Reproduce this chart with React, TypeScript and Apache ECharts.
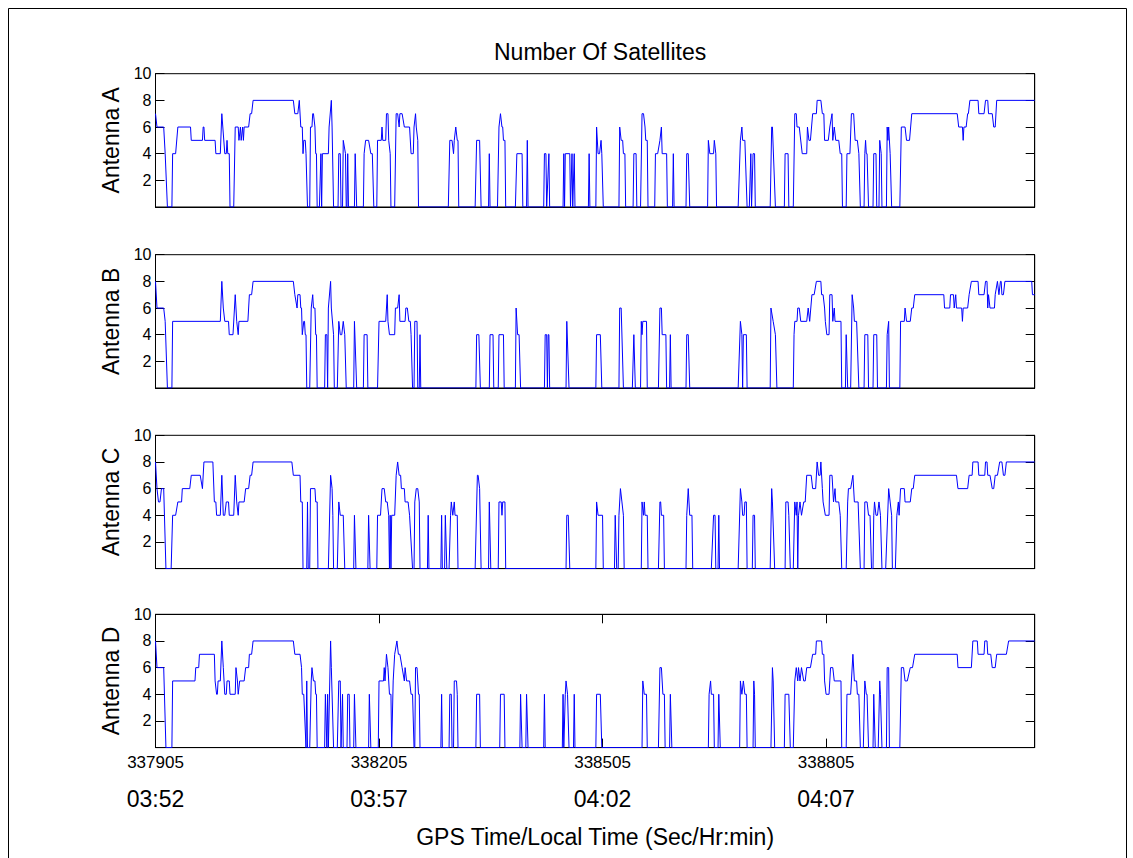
import { useEffect, useRef } from "react";
import * as echarts from "echarts";

// GPS seconds of week covered by the record
const GPS_START = 337905;
const GPS_END = 339085;

// x tick positions (GPS seconds) and their local-time equivalents
const gpsTicks = [337905, 338205, 338505, 338805];
const localTimes = ["03:52", "03:57", "04:02", "04:07"];

const antennaNames = ["Antenna A", "Antenna B", "Antenna C", "Antenna D"];

// Each record: [seconds since GPS_START, satellites tracked]
const antennaA: [number, number][] = [
  [0, 7], [2, 6], [11, 6], [13, 4], [16, 0], [22, 0], [23, 4], [27, 4], [30, 6], [47, 6], [48, 5], [63, 5], [64, 6], [65, 6], [66, 5],
  [80, 5], [81, 4], [87, 4], [89, 7], [93, 4], [95, 4], [96, 5], [97, 4], [99, 4], [100, 0], [105, 0], [107, 6], [111, 6], [112, 5],
  [114, 6], [115, 5], [117, 6], [118, 5], [119, 6], [125, 6], [127, 7], [129, 7], [131, 8], [185, 8], [187, 7], [191, 7], [193, 8],
  [195, 6], [197, 6], [198, 4], [199, 5], [201, 5], [202, 4], [204, 0], [207, 0], [208, 6], [210, 6], [211, 7], [212, 7], [214, 6],
  [215, 4], [216, 4], [217, 0], [220, 0], [222, 4], [223, 0], [224, 4], [232, 4], [233, 6], [236, 8], [237, 6], [239, 0], [245, 0],
  [246, 4], [248, 4], [249, 0], [251, 0], [252, 5], [255, 4], [256, 0], [257, 0], [258, 4], [259, 0], [267, 0], [268, 4], [270, 0],
  [279, 0], [280, 4], [282, 5], [286, 5], [289, 4], [291, 4], [293, 0], [297, 0], [298, 5], [303, 5], [304, 6], [305, 5], [309, 5],
  [310, 7], [312, 7], [313, 5], [315, 4], [316, 0], [321, 0], [323, 7], [325, 7], [327, 6], [328, 7], [331, 7], [334, 6], [341, 6],
  [343, 4], [346, 4], [347, 6], [349, 7], [350, 6], [352, 5], [353, 0], [393, 0], [395, 5], [398, 5], [400, 4], [401, 5], [403, 6],
  [405, 5], [406, 5], [407, 0], [429, 0], [431, 5], [435, 5], [437, 0], [447, 0], [448, 4], [449, 0], [459, 0], [461, 6], [463, 7],
  [465, 6], [466, 6], [467, 5], [469, 5], [470, 0], [483, 0], [485, 4], [492, 4], [493, 0], [498, 0], [499, 5], [500, 0], [521, 0],
  [522, 4], [524, 4], [525, 0], [528, 4], [529, 0], [547, 0], [548, 4], [549, 0], [550, 4], [556, 4], [557, 0], [559, 4], [560, 0],
  [562, 4], [563, 0], [581, 0], [582, 4], [583, 0], [591, 0], [592, 6], [594, 4], [596, 4], [598, 5], [599, 4], [601, 0], [622, 0],
  [623, 6], [625, 5], [627, 5], [628, 4], [630, 4], [631, 0], [641, 0], [642, 4], [645, 4], [646, 0], [651, 0], [653, 7], [655, 7],
  [657, 6], [658, 5], [660, 5], [661, 0], [670, 0], [671, 4], [674, 4], [677, 5], [679, 6], [680, 4], [686, 4], [687, 0], [694, 0],
  [695, 4], [696, 0], [712, 0], [713, 4], [715, 4], [717, 0], [741, 0], [742, 5], [744, 4], [749, 4], [750, 5], [752, 4], [753, 0],
  [782, 0], [785, 5], [787, 6], [788, 5], [791, 5], [794, 0], [797, 0], [799, 4], [800, 0], [802, 4], [804, 4], [805, 0], [825, 0],
  [827, 6], [828, 6], [832, 0], [844, 0], [845, 4], [849, 4], [850, 0], [856, 0], [858, 7], [860, 7], [861, 6], [864, 6], [868, 4],
  [874, 4], [875, 6], [877, 5], [879, 5], [882, 7], [887, 7], [888, 8], [893, 8], [895, 7], [897, 7], [898, 5], [903, 5], [905, 6],
  [908, 7], [909, 5], [911, 6], [913, 5], [917, 5], [919, 4], [921, 4], [922, 0], [927, 0], [928, 4], [932, 4], [934, 7], [937, 7],
  [939, 5], [942, 5], [944, 4], [946, 0], [951, 0], [952, 4], [953, 5], [954, 4], [955, 4], [957, 0], [963, 0], [964, 4], [967, 4],
  [968, 0], [971, 0], [972, 5], [974, 4], [975, 0], [981, 0], [982, 6], [983, 5], [984, 6], [986, 4], [988, 0], [999, 0], [1001, 6],
  [1006, 6], [1008, 5], [1012, 5], [1015, 7], [1076, 7], [1078, 6], [1083, 6], [1084, 5], [1085, 6], [1088, 6], [1090, 7], [1091, 7],
  [1093, 8], [1104, 8], [1105, 7], [1112, 7], [1114, 8], [1117, 8], [1118, 7], [1123, 7], [1125, 6], [1127, 6], [1129, 8], [1180, 8],
];

const antennaB: [number, number][] = [
  [0, 8], [2, 6], [11, 6], [13, 5], [16, 0], [22, 0], [23, 5], [87, 5], [89, 8], [91, 6], [93, 5], [98, 5], [99, 4], [104, 4],
  [107, 7], [109, 5], [111, 4], [112, 5], [124, 5], [126, 7], [129, 7], [131, 8], [185, 8], [187, 7], [190, 6], [191, 7], [194, 7],
  [195, 6], [196, 6], [197, 4], [199, 5], [200, 5], [201, 4], [202, 4], [203, 0], [207, 0], [209, 6], [211, 7], [212, 6], [214, 6],
  [215, 4], [216, 4], [217, 0], [227, 0], [228, 4], [230, 4], [231, 0], [232, 6], [235, 8], [236, 6], [239, 4], [240, 0], [244, 0],
  [246, 5], [248, 4], [250, 4], [252, 5], [254, 4], [256, 0], [266, 0], [267, 5], [270, 0], [279, 0], [280, 4], [284, 4], [285, 0],
  [298, 0], [300, 5], [309, 5], [311, 7], [312, 5], [314, 4], [321, 4], [322, 6], [325, 6], [327, 7], [328, 5], [335, 5], [336, 6],
  [338, 6], [340, 5], [342, 5], [343, 4], [345, 0], [347, 0], [348, 5], [351, 5], [352, 0], [354, 0], [355, 4], [356, 0], [430, 0],
  [431, 4], [434, 4], [436, 0], [448, 0], [449, 4], [453, 4], [454, 0], [460, 0], [461, 4], [467, 4], [468, 0], [483, 0], [484, 6],
  [486, 4], [488, 4], [490, 0], [522, 0], [523, 4], [525, 4], [526, 0], [527, 4], [528, 4], [529, 0], [551, 0], [552, 5], [555, 0],
  [591, 0], [592, 4], [597, 4], [599, 0], [622, 0], [623, 6], [625, 6], [628, 0], [640, 0], [642, 4], [644, 0], [651, 0], [652, 5],
  [653, 4], [654, 5], [659, 5], [660, 0], [675, 0], [677, 6], [679, 6], [680, 4], [685, 4], [686, 0], [690, 0], [691, 4], [692, 0],
  [712, 0], [713, 4], [715, 4], [717, 0], [782, 0], [785, 5], [787, 4], [788, 0], [789, 4], [793, 4], [794, 0], [825, 0], [826, 6],
  [829, 5], [832, 4], [834, 0], [856, 0], [857, 4], [858, 5], [861, 5], [862, 6], [864, 6], [866, 5], [874, 5], [876, 6], [878, 5],
  [881, 7], [884, 7], [887, 8], [893, 8], [894, 7], [896, 7], [898, 6], [899, 5], [901, 4], [904, 4], [905, 7], [908, 7], [909, 5],
  [911, 6], [912, 5], [920, 5], [921, 0], [926, 0], [927, 4], [929, 0], [933, 0], [935, 7], [937, 6], [938, 5], [941, 5], [944, 0],
  [951, 0], [952, 4], [956, 4], [957, 0], [963, 0], [964, 4], [968, 4], [969, 0], [981, 0], [982, 4], [984, 5], [985, 0], [999, 0],
  [1000, 5], [1005, 5], [1006, 6], [1008, 5], [1013, 5], [1015, 6], [1017, 6], [1019, 7], [1058, 7], [1059, 6], [1066, 6], [1067, 7],
  [1071, 7], [1072, 6], [1074, 7], [1075, 6], [1082, 6], [1083, 5], [1084, 6], [1090, 6], [1092, 7], [1095, 8], [1104, 8], [1105, 7],
  [1112, 7], [1114, 8], [1116, 8], [1117, 6], [1118, 7], [1120, 6], [1126, 6], [1127, 7], [1130, 8], [1132, 7], [1134, 8], [1135, 8],
  [1136, 7], [1138, 7], [1140, 8], [1176, 8], [1177, 7], [1180, 7],
];

const antennaC: [number, number][] = [
  [0, 8], [2, 6], [4, 5], [6, 5], [8, 6], [11, 6], [12, 4], [14, 0], [21, 0], [23, 4], [27, 4], [30, 5], [35, 5], [36, 6], [46, 6],
  [48, 7], [60, 7], [63, 6], [65, 8], [77, 8], [79, 5], [81, 5], [82, 4], [87, 4], [89, 7], [91, 4], [93, 4], [95, 5], [98, 5],
  [99, 4], [105, 4], [107, 7], [109, 5], [111, 4], [112, 5], [119, 5], [121, 6], [125, 6], [127, 7], [129, 7], [131, 8], [183, 8],
  [185, 7], [194, 7], [195, 5], [197, 5], [198, 0], [203, 0], [204, 5], [205, 0], [207, 0], [208, 6], [214, 6], [215, 5], [217, 5],
  [218, 0], [232, 0], [235, 7], [237, 6], [238, 4], [239, 0], [244, 0], [246, 5], [248, 4], [252, 4], [254, 0], [266, 0], [267, 4],
  [269, 0], [285, 0], [286, 4], [288, 0], [297, 0], [298, 4], [302, 4], [304, 6], [307, 6], [309, 5], [311, 5], [313, 4], [314, 0],
  [315, 4], [316, 0], [317, 4], [321, 4], [323, 7], [325, 8], [327, 7], [329, 7], [330, 6], [334, 6], [335, 5], [339, 5], [341, 4],
  [345, 0], [347, 0], [348, 5], [350, 6], [352, 6], [354, 5], [355, 0], [365, 0], [366, 4], [367, 0], [383, 0], [384, 4], [385, 0],
  [388, 0], [389, 4], [391, 0], [394, 0], [396, 4], [397, 5], [399, 4], [401, 5], [402, 4], [405, 4], [406, 0], [429, 0], [432, 7],
  [433, 7], [435, 6], [437, 0], [447, 0], [448, 5], [450, 0], [460, 0], [461, 5], [464, 5], [465, 4], [466, 5], [469, 5], [470, 0],
  [551, 0], [552, 4], [554, 4], [556, 0], [591, 0], [592, 5], [594, 4], [600, 4], [601, 0], [616, 0], [617, 4], [619, 0], [621, 0],
  [622, 4], [624, 6], [626, 5], [628, 4], [629, 0], [652, 0], [653, 5], [655, 4], [656, 5], [657, 4], [660, 4], [661, 0], [675, 0],
  [677, 5], [678, 5], [679, 4], [682, 4], [683, 0], [712, 0], [713, 4], [715, 6], [717, 4], [720, 4], [721, 0], [746, 0], [749, 4],
  [751, 4], [752, 0], [755, 0], [756, 4], [757, 0], [782, 0], [785, 6], [787, 5], [788, 4], [790, 4], [791, 5], [793, 5], [794, 0],
  [801, 0], [802, 4], [804, 4], [805, 0], [825, 0], [827, 6], [828, 5], [831, 0], [845, 0], [846, 5], [849, 5], [850, 4], [852, 0],
  [856, 0], [858, 5], [860, 4], [861, 5], [862, 0], [863, 4], [865, 5], [867, 4], [870, 5], [872, 5], [874, 7], [880, 7], [882, 6],
  [886, 6], [888, 8], [890, 7], [892, 7], [893, 8], [895, 6], [896, 5], [899, 4], [904, 4], [905, 7], [908, 7], [910, 5], [912, 6],
  [913, 5], [917, 5], [919, 4], [921, 0], [927, 0], [929, 5], [930, 6], [933, 6], [936, 7], [938, 5], [943, 5], [946, 0], [951, 0],
  [952, 5], [955, 5], [957, 4], [959, 4], [961, 0], [963, 0], [964, 4], [965, 5], [967, 4], [969, 4], [971, 5], [973, 4], [975, 0],
  [980, 0], [984, 6], [986, 5], [988, 4], [989, 0], [993, 0], [995, 4], [997, 5], [998, 4], [1000, 6], [1005, 6], [1006, 5], [1013, 5],
  [1015, 6], [1017, 6], [1019, 7], [1075, 7], [1077, 6], [1090, 6], [1092, 7], [1096, 7], [1097, 8], [1104, 8], [1105, 7], [1113, 7],
  [1114, 8], [1116, 8], [1117, 7], [1120, 7], [1123, 6], [1125, 6], [1127, 7], [1130, 7], [1133, 8], [1136, 8], [1138, 7], [1140, 7],
  [1142, 8], [1180, 8],
];

const antennaD: [number, number][] = [
  [0, 8], [2, 6], [11, 6], [14, 0], [22, 0], [23, 5], [53, 5], [54, 6], [58, 6], [59, 7], [79, 7], [80, 5], [82, 4], [83, 4], [84, 5],
  [87, 5], [89, 8], [91, 6], [93, 4], [95, 4], [96, 5], [99, 5], [100, 4], [107, 4], [108, 6], [110, 5], [111, 4], [113, 5], [119, 5],
  [121, 6], [125, 6], [126, 7], [129, 7], [131, 8], [185, 8], [187, 7], [194, 7], [196, 6], [197, 4], [199, 4], [202, 0], [203, 5],
  [204, 0], [207, 0], [209, 5], [210, 6], [212, 5], [214, 5], [215, 4], [216, 4], [217, 0], [227, 0], [228, 4], [230, 0], [231, 4],
  [232, 0], [235, 8], [236, 6], [239, 0], [244, 0], [246, 5], [248, 5], [249, 0], [251, 4], [252, 0], [257, 0], [258, 4], [260, 4],
  [261, 0], [266, 0], [267, 4], [269, 0], [286, 0], [287, 4], [289, 0], [299, 0], [300, 5], [306, 5], [307, 6], [308, 5], [310, 7],
  [312, 6], [314, 4], [316, 4], [317, 0], [319, 5], [321, 7], [324, 8], [326, 7], [328, 7], [331, 6], [334, 5], [335, 6], [337, 5],
  [341, 5], [343, 4], [345, 4], [347, 0], [348, 0], [349, 6], [351, 6], [353, 4], [354, 4], [355, 0], [383, 0], [384, 4], [385, 0],
  [394, 0], [395, 4], [397, 4], [398, 0], [400, 0], [401, 5], [404, 5], [405, 4], [406, 0], [430, 0], [431, 4], [435, 4], [436, 0],
  [462, 0], [463, 4], [468, 4], [469, 0], [489, 0], [490, 4], [492, 0], [497, 0], [498, 4], [500, 0], [521, 0], [522, 4], [523, 0],
  [546, 0], [547, 4], [548, 0], [550, 4], [551, 5], [553, 4], [555, 0], [561, 0], [562, 4], [563, 0], [591, 0], [592, 4], [597, 4],
  [599, 0], [653, 0], [654, 5], [656, 4], [659, 4], [660, 0], [675, 0], [677, 6], [679, 6], [681, 4], [683, 4], [684, 0], [690, 0],
  [691, 4], [693, 0], [742, 0], [743, 4], [745, 5], [746, 4], [749, 4], [750, 0], [755, 0], [756, 4], [758, 0], [784, 0], [785, 5],
  [787, 4], [789, 5], [791, 4], [793, 4], [794, 0], [802, 0], [803, 5], [804, 4], [805, 0], [826, 0], [828, 6], [829, 5], [831, 0],
  [844, 0], [845, 4], [850, 4], [852, 0], [856, 0], [858, 5], [860, 6], [862, 5], [863, 6], [865, 5], [867, 6], [870, 5], [872, 5],
  [874, 6], [879, 6], [882, 7], [886, 7], [887, 8], [894, 8], [895, 7], [897, 7], [898, 5], [900, 4], [904, 4], [905, 5], [906, 6],
  [909, 6], [911, 5], [920, 5], [921, 0], [927, 0], [928, 4], [933, 4], [936, 7], [938, 5], [941, 5], [942, 4], [944, 4], [946, 0],
  [950, 0], [952, 5], [954, 4], [955, 4], [957, 0], [963, 0], [964, 4], [966, 0], [970, 0], [972, 5], [973, 4], [975, 0], [981, 0],
  [982, 6], [984, 6], [985, 0], [999, 0], [1001, 6], [1004, 6], [1006, 5], [1009, 5], [1013, 6], [1016, 6], [1019, 7], [1076, 7],
  [1077, 6], [1095, 6], [1097, 8], [1103, 8], [1104, 7], [1112, 7], [1113, 8], [1116, 8], [1117, 7], [1121, 7], [1123, 6], [1127, 6],
  [1129, 7], [1142, 7], [1145, 8], [1180, 8],
];

const antennaSeries = [antennaA, antennaB, antennaC, antennaD];

const FONT = '"Liberation Sans", Arial, Helvetica, sans-serif';
const PLOT_LEFT = 155.5;
const PLOT_WIDTH = 879.2;
const PLOT_HEIGHT = 133.3;
const PANEL_TOPS = [73.7, 254.7, 435.3, 614.3];
const Y_TICK_FONT = 16;
const X_TICK_FONT = 17;
const LABEL_FONT = 23;

function buildOption(): echarts.EChartsOption {
  const last = antennaSeries.length - 1;
  const black = { color: "#000", width: 1 };

  const grid = PANEL_TOPS.map((top) => ({
    left: PLOT_LEFT,
    top,
    width: PLOT_WIDTH,
    height: PLOT_HEIGHT,
    show: true,
    borderColor: "#000",
    borderWidth: 1,
    backgroundColor: "#fff",
  }));

  const xAxis: any[] = antennaSeries.map((_, i) => ({
    type: "value",
    gridIndex: i,
    min: GPS_START,
    max: GPS_END,
    position: "bottom",
    axisLine: { show: true, onZero: false, lineStyle: black },
    splitLine: { show: false },
    axisTick: { show: i === last, inside: true, length: 9, customValues: gpsTicks, lineStyle: black },
    axisLabel: {
      show: i === last,
      customValues: gpsTicks,
      formatter: (v: number) => String(v),
      margin: 6,
      fontSize: X_TICK_FONT,
      color: "#000",
      fontFamily: FONT,
    },
  }));
  // ticks along the top edge of the lowest panel
  xAxis.push({
    type: "value",
    gridIndex: last,
    min: GPS_START,
    max: GPS_END,
    position: "top",
    axisLine: { show: true, onZero: false, lineStyle: black },
    splitLine: { show: false },
    axisTick: { show: true, inside: true, length: 9, customValues: gpsTicks, lineStyle: black },
    axisLabel: { show: false },
  });
  // second row of labels: local clock time
  xAxis.push({
    type: "value",
    gridIndex: last,
    min: GPS_START,
    max: GPS_END,
    position: "bottom",
    axisLine: { show: false },
    splitLine: { show: false },
    axisTick: { show: false },
    axisLabel: {
      customValues: gpsTicks,
      formatter: (v: number) => localTimes[gpsTicks.indexOf(v)] ?? "",
      margin: 40,
      fontSize: LABEL_FONT,
      color: "#000",
      fontFamily: FONT,
    },
    name: "GPS Time/Local Time (Sec/Hr:min)",
    nameLocation: "middle",
    nameGap: 78,
    nameTextStyle: { fontSize: LABEL_FONT, color: "#000", fontFamily: FONT },
  });

  const yAxis: any[] = [];
  antennaSeries.forEach((_, i) => {
    yAxis.push({
      type: "value",
      gridIndex: i,
      min: 0,
      max: 10,
      interval: 2,
      position: "left",
      axisLine: { show: true, onZero: false, lineStyle: black },
      splitLine: { show: false },
      axisTick: { show: true, inside: true, length: 9, lineStyle: black },
      axisLabel: {
        formatter: (v: number) => (v === 0 ? "" : String(v)),
        margin: 4,
        fontSize: Y_TICK_FONT,
        color: "#000",
        fontFamily: FONT,
      },
      name: antennaNames[i],
      nameLocation: "middle",
      nameRotate: 90,
      nameGap: 33,
      nameTextStyle: { fontSize: LABEL_FONT, color: "#000", fontFamily: FONT },
    });
    yAxis.push({
      type: "value",
      gridIndex: i,
      min: 0,
      max: 10,
      interval: 2,
      position: "right",
      axisLine: { show: true, onZero: false, lineStyle: black },
      splitLine: { show: false },
      axisTick: { show: true, inside: true, length: 9, lineStyle: black },
      axisLabel: { show: false },
    });
  });

  const series: any[] = antennaSeries.map((rows, i) => ({
    type: "line",
    name: antennaNames[i],
    xAxisIndex: i,
    yAxisIndex: i * 2,
    data: rows.map(([t, n]) => [GPS_START + t, n]),
    symbol: "none",
    showSymbol: false,
    lineStyle: { color: "#0000ff", width: 1 },
    itemStyle: { color: "#0000ff" },
    silent: true,
    z: 3,
  }));

  return {
    animation: false,
    backgroundColor: "#fff",
    title: {
      text: "Number Of Satellites",
      left: PLOT_LEFT + PLOT_WIDTH / 2,
      top: 35,
      textAlign: "center",
      textStyle: { fontSize: LABEL_FONT, fontWeight: "normal", color: "#000", fontFamily: FONT },
    },
    graphic: [
      {
        type: "rect",
        silent: true,
        shape: { x: 8.5, y: 8.5, width: 1118, height: 900 },
        style: { fill: "none", stroke: "#000", lineWidth: 1 },
      },
    ],
    grid,
    xAxis,
    yAxis,
    series,
  };
}

export default function App() {
  const ref = useRef<HTMLDivElement>(null);

  useEffect(() => {
    document.body.style.margin = "0";
    document.body.style.overflow = "hidden";
    if (!ref.current) return;
    const chart = echarts.init(ref.current, undefined, { renderer: "svg" });
    chart.setOption(buildOption());
    return () => chart.dispose();
  }, []);

  return <div ref={ref} style={{ width: 1133, height: 858, background: "#fff" }} />;
}
